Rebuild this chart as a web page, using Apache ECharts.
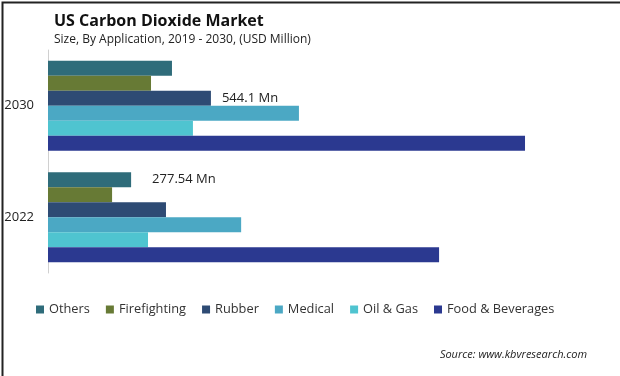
<!DOCTYPE html>
<html>
<head>
<meta charset="utf-8">
<script src="https://cdn.jsdelivr.net/npm/echarts@6/dist/echarts.min.js"></script>
<style>
  html, body { margin: 0; padding: 0; background: #fff; }
  #chart { width: 620px; height: 376px; }
</style>
</head>
<body>
<div id="chart"></div>
<script>
var years = ['2022', '2030'];
var seriesNames = ['Others', 'Firefighting', 'Rubber', 'Medical', 'Oil & Gas', 'Food & Beverages'];
var others = [277.54, 414];
var firefighting = [214, 344];
var rubber = [394, 544.1];
var medical = [645, 838];
var oilGas = [334, 484];
var foodBev = [1306, 1593];
var colors = ['#2f6c7a', '#677a35', '#2e4b74', '#4ba8c4', '#4fc4d0', '#2b3990'];

var allValues = [others, firefighting, rubber, medical, oilGas, foodBev];
// labels shown only on a couple of bars, like the original
var labelled = { 'Others': 0, 'Rubber': 1 };

var chart = echarts.init(document.getElementById('chart'));

var series = seriesNames.map(function (name, i) {
  return {
    name: name,
    type: 'bar',
    barWidth: 15,
    barGap: '0%',
    itemStyle: { color: colors[i] },
    data: allValues[i].map(function (v, j) {
      var item = { value: v };
      if (labelled[name] === j) {
        item.label = {
          show: true,
          position: 'right',
          distance: name === 'Others' ? 21 : 11,
          formatter: function (p) { return p.value + ' Mn'; },
          color: '#222',
          fontSize: 13,
          fontFamily: 'Open Sans'
        };
      }
      return item;
    })
  };
});

var option = {
  animation: false,
  title: {
    text: 'US Carbon Dioxide Market',
    subtext: 'Size, By Application, 2019 - 2030, (USD Million)',
    left: 49,
    top: 8,
    itemGap: 5,
    textStyle: { fontFamily: 'Open Sans', fontSize: 16, fontWeight: 'bold', color: '#111' },
    subtextStyle: { fontFamily: 'Open Sans', fontSize: 12, color: '#222' }
  },
  legend: {
    data: seriesNames,
    left: 31,
    top: 298,
    icon: 'rect',
    itemWidth: 8,
    itemHeight: 8,
    itemGap: 16,
    textStyle: { fontFamily: 'Open Sans', fontSize: 12.8, color: '#333' }
  },
  grid: { left: 48, right: 33, top: 50, bottom: 103, containLabel: false },
  xAxis: {
    type: 'value',
    min: 0,
    max: 1800,
    show: false
  },
  yAxis: {
    type: 'category',
    data: years,
    axisTick: { show: false },
    axisLine: { lineStyle: { color: '#d0d0d0', width: 1 } },
    axisLabel: { fontFamily: 'Open Sans', fontSize: 13, color: '#222', margin: 14 }
  },
  graphic: [
    {
      type: 'text',
      right: 33,
      top: 349,
      style: {
        text: 'Source: www.kbvresearch.com',
        font: 'italic 11px "Open Sans"',
        fill: '#222'
      }
    },
    {
      type: 'rect',
      left: 0,
      top: 0,
      shape: { x: 0.5, y: 0.5, width: 619, height: 375 },
      style: { fill: 'none', stroke: '#222', lineWidth: 2 },
      silent: true
    }
  ],
  series: series
};

chart.setOption(option);
</script>
</body>
</html>
